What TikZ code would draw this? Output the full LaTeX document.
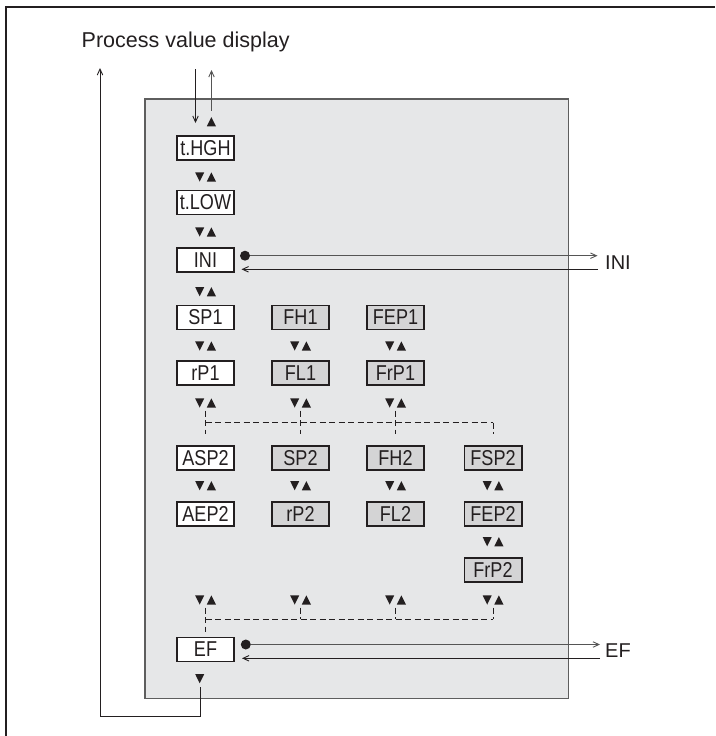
\documentclass[tikz,border=0pt]{standalone}
\usepackage{fontspec}
\setmainfont{Liberation Sans}
\newfontfamily\boxfont{Liberation Sans}[FakeStretch=0.84]
\usetikzlibrary{arrows.meta}
\definecolor{ink}{HTML}{231F20}
\definecolor{panelgray}{HTML}{E6E7E8}
\definecolor{boxgray}{HTML}{D4D4D5}
\definecolor{edgegray}{HTML}{5E5E5E}
\definecolor{linegray}{HTML}{555555}
\begin{document}
\begin{tikzpicture}[x=1pt,y=-1pt,
  box/.style={draw=ink, line width=1.8pt, fill=white, minimum width=57.2pt,
    minimum height=24pt, inner sep=0pt, text=ink,
    font=\boxfont\fontsize{21.5}{21.5}\selectfont},
  sbox/.style={box, fill=boxgray},
  conn/.style={draw=ink, line width=0.9pt},
  gconn/.style={draw=linegray, line width=0.9pt},
  tip/.style={-{Straight Barb[length=6pt,width=5.5pt]}},
  dl/.style={draw=ink, line width=0.9pt, dash pattern=on 6pt off 3.5pt},
  dot/.style={circle, fill=ink, inner sep=0pt, minimum size=10pt},
  lab/.style={text=ink, inner sep=0pt, font=\fontsize{20}{20}\selectfont},
  updown/.pic={\fill[ink] (-10.3,-4.6) -- (-1.3,-4.6) -- (-5.8,4.6) -- cycle;
               \fill[ink] (1.3,4.6) -- (10.5,4.6) -- (5.9,-4.6) -- cycle;},
  uponly/.pic={\fill[ink] (1.3,4.6) -- (10.5,4.6) -- (5.9,-4.6) -- cycle;},
  downonly/.pic={\fill[ink] (-10.3,-4.6) -- (-1.3,-4.6) -- (-5.8,4.6) -- cycle;}
]
\useasboundingbox (0,0) rectangle (715,736);
% outer frame (left and top)
\draw[ink, line width=2pt] (6,736) -- (6,7) -- (715,7);
% panel
\draw[edgegray, fill=panelgray, line width=1.3pt] (145,99) rectangle (568.3,698.7);

% title
\node[lab, anchor=base west, font=\fontsize{21.5}{21.5}\selectfont] (title) at (81.5,47) {Process value display};

% column 1
\node[box] (thgh) at (205.5,148.3) {t.HGH};
\node[box] (tlow) at (205.5,202.5) {t.LOW};
\node[box] (ini)  at (205.5,260)   {INI};
\node[box] (sp1)  at (205.5,317.5) {SP1};
\node[box] (rp1)  at (205.5,372.7) {rP1};
\node[box] (asp2) at (205.5,458)   {ASP2};
\node[box] (aep2) at (205.5,513.7) {AEP2};
\node[box] (ef)   at (205.5,649.5) {EF};
% column 2
\node[sbox] (fh1) at (300.5,317.5) {FH1};
\node[sbox] (fl1) at (300.5,372.7) {FL1};
\node[sbox] (sp2) at (300.5,458)   {SP2};
\node[sbox] (rp2) at (300.5,513.7) {rP2};
% column 3
\node[sbox] (fep1) at (395.5,317.5) {FEP1};
\node[sbox] (frp1) at (395.5,372.7) {FrP1};
\node[sbox] (fh2)  at (395.5,458)   {FH2};
\node[sbox] (fl2)  at (395.5,513.7) {FL2};
% column 4
\node[sbox] (fsp2) at (493,458)   {FSP2};
\node[sbox] (fep2) at (493,513.7) {FEP2};
\node[sbox] (frp2) at (493,569.7) {FrP2};

% triangles
\pic at (205.5,121.7) {uponly};
\foreach \y in {177,232,291.7,346,403,485.7,600} \pic at (205.5,\y) {updown};
\foreach \y in {346,403,485.7,600} {\pic at (300.5,\y) {updown}; \pic at (395.5,\y) {updown};}
\foreach \y in {485.7,541.7,600} \pic at (493,\y) {updown};
\pic at (205.5,678.7) {downonly};

% top arrows
\coordinate (pvdown0) at (195.5,69);
\coordinate (pvdown1) at (195.5,123);
\coordinate (pvup0) at (211.5,110.7);
\coordinate (pvup1) at (211.5,70);
\draw[conn, tip] (pvdown0) -- (pvdown1);
\draw[gconn, tip] (pvup0) -- (pvup1);

% INI connections
\node[dot] (inidot) at (245,255.7) {};
\node[lab, anchor=west] (inilab) at (605,262.5) {INI};
\coordinate (iniout) at (597.5,255.7);
\coordinate (iniret0) at (598,269.3);
\coordinate (iniret1) at (241.5,269.3);
\draw[gconn, tip] (inidot) -- (iniout);
\draw[conn, tip] (iniret0) -- (iniret1);

% EF connections
\node[dot] (efdot) at (245.8,644.5) {};
\node[lab, anchor=west] (eflab) at (605,651) {EF};
\coordinate (efout) at (600,644.5);
\coordinate (efret0) at (600,658.3);
\coordinate (efret1) at (242,658.3);
\draw[gconn, tip] (efdot) -- (efout);
\draw[conn, tip] (efret0) -- (efret1);

% loop back to process value display
\coordinate (loop0) at (200,687);
\coordinate (loop1) at (200,716.7);
\coordinate (loop2) at (100,716.7);
\coordinate (loop3) at (100,68);
\draw[conn, tip] (loop0) -- (loop1) -- (loop2) -- (loop3);

% dashed branch lines (top)
\draw[dl] (205.7,422.7) -- (493,422.7);
\draw[dl] (205.7,410.5) -- (205.7,433.5);
\draw[dl] (300.5,410.5) -- (300.5,433.5);
\draw[dl] (395.5,410.5) -- (395.5,433.5);
\draw[dl] (493,422.7) -- (493,433.5);
% dashed merge lines (bottom)
\draw[dl] (205.7,619.3) -- (493,619.3);
\draw[dl] (205.7,607.5) -- (205.7,632);
\draw[dl] (300.5,607.5) -- (300.5,619.3);
\draw[dl] (395.5,607.5) -- (395.5,619.3);
\draw[dl] (493,607.5) -- (493,619.3);
\end{tikzpicture}
\end{document}
